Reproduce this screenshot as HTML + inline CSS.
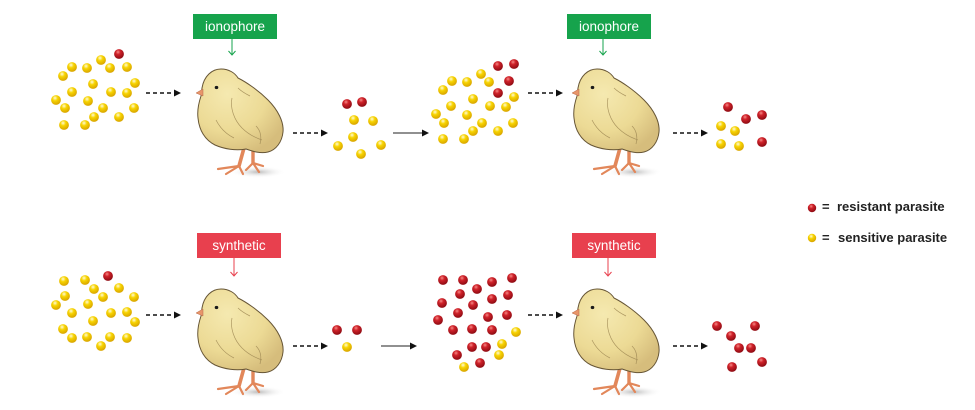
<!DOCTYPE html>
<html>
<head>
<meta charset="utf-8">
<style>
  html,body{margin:0;padding:0;background:#fff;}
  body{width:975px;height:410px;overflow:hidden;}
  svg{display:block;}
</style>
</head>
<body>
<svg width="975" height="410" viewBox="0 0 975 410" xmlns="http://www.w3.org/2000/svg">
  <defs>
    <radialGradient id="gr" cx="40%" cy="30%" r="70%">
      <stop offset="0%" stop-color="#f58a86"/>
      <stop offset="35%" stop-color="#d0222a"/>
      <stop offset="100%" stop-color="#8c0a12"/>
    </radialGradient>
    <radialGradient id="gy" cx="40%" cy="30%" r="70%">
      <stop offset="0%" stop-color="#fffbd8"/>
      <stop offset="40%" stop-color="#f7d400"/>
      <stop offset="100%" stop-color="#d8a400"/>
    </radialGradient>
    <radialGradient id="gbody" cx="35%" cy="30%" r="75%">
      <stop offset="0%" stop-color="#f5e9b0"/>
      <stop offset="60%" stop-color="#ecda95"/>
      <stop offset="100%" stop-color="#d6bd7c"/>
    </radialGradient>
    <radialGradient id="gshadow" cx="50%" cy="50%" r="50%">
      <stop offset="0%" stop-color="#b0b0b0" stop-opacity="0.85"/>
      <stop offset="100%" stop-color="#ffffff" stop-opacity="0"/>
    </radialGradient>
    <g id="chick">
      <ellipse cx="62" cy="104" rx="28" ry="6" fill="url(#gshadow)"/>
      <!-- legs -->
      <g stroke="#e2875a" stroke-linecap="round" fill="none">
        <path d="M48,80 L43,98" stroke-width="3.6"/>
        <path d="M57,80 L57,95" stroke-width="3.4"/>
        <path d="M43,98 L22,101 M43,98 L30,106 M43,98 L47,106" stroke-width="2.2"/>
        <path d="M57,95 L50,102 M57,95 L63,104 M57,95 L67,98" stroke-width="2.2"/>
      </g>
      <!-- body silhouette -->
      <path d="M6,20 C8,8 16,1 25,1 C33,1 39,5 42,10 C50,14 62,22 72,32 C82,42 88,54 87,64 C86,74 80,82 72,84 C64,86 56,83 50,81 C40,83 28,81 19,77 C9,72 3,62 2,50 C1,42 3,34 5,28 Z"
            fill="url(#gbody)" stroke="#665535" stroke-width="1"/>
      <!-- feather strokes -->
      <g stroke="#a08a55" stroke-width="0.7" fill="none" opacity="0.85">
        <path d="M36,30 C34,40 38,52 46,60 C52,66 60,70 66,72"/>
        <path d="M20,52 C24,60 30,66 38,70"/>
        <path d="M60,58 C64,62 66,68 64,76"/>
        <path d="M42,20 C46,24 50,26 54,28"/>
      </g>
      <!-- beak -->
      <path d="M7,21 L0,25 L7,28 Z" fill="#e8956a" stroke="#b86a48" stroke-width="0.5"/>
      <!-- eye -->
      <ellipse cx="20.5" cy="19.5" rx="1.8" ry="1.6" fill="#1a1a1a"/>
    </g>
  </defs>

  <!-- ===== Boxes ===== -->
  <rect x="193" y="14" width="84" height="25" fill="#16a34c"/>
  <text x="235" y="31" fill="#fff" font-family="Liberation Sans, sans-serif" font-size="13.5" text-anchor="middle">ionophore</text>
  <path d="M232,39 L232,55 M228.5,51 L232,55 L235.5,51" stroke="#16a34c" stroke-width="1" fill="none"/>

  <rect x="567" y="14" width="84" height="25" fill="#16a34c"/>
  <text x="609" y="31" fill="#fff" font-family="Liberation Sans, sans-serif" font-size="13.5" text-anchor="middle">ionophore</text>
  <path d="M603,39 L603,55 M599.5,51 L603,55 L606.5,51" stroke="#16a34c" stroke-width="1" fill="none"/>

  <rect x="197" y="233" width="84" height="25" fill="#e8404e"/>
  <text x="239" y="250" fill="#fff" font-family="Liberation Sans, sans-serif" font-size="13.5" text-anchor="middle">synthetic</text>
  <path d="M234,258 L234,276 M230.5,272 L234,276 L237.5,272" stroke="#e8404e" stroke-width="1" fill="none"/>

  <rect x="572" y="233" width="84" height="25" fill="#e8404e"/>
  <text x="614" y="250" fill="#fff" font-family="Liberation Sans, sans-serif" font-size="13.5" text-anchor="middle">synthetic</text>
  <path d="M608,258 L608,276 M604.5,272 L608,276 L611.5,272" stroke="#e8404e" stroke-width="1" fill="none"/>

  <!-- ===== Chicks ===== -->
  <use href="#chick" x="196" y="68"/>
  <use href="#chick" x="572" y="68"/>
  <use href="#chick" x="196" y="288"/>
  <use href="#chick" x="572" y="288"/>

  <!-- ===== Arrows ===== -->
  <g stroke="#111" stroke-width="1.4" stroke-dasharray="4 3" fill="none">
    <path d="M146,93 H175"/>
    <path d="M293,133 H322"/>
    <path d="M528,93 H557"/>
    <path d="M673,133 H702"/>
    <path d="M146,315 H175"/>
    <path d="M293,346 H322"/>
    <path d="M528,315 H557"/>
    <path d="M673,346 H702"/>
  </g>
  <g stroke="#222" stroke-width="1" fill="none">
    <path d="M393,133 H423"/>
    <path d="M381,346 H411"/>
  </g>
  <g fill="#111">
    <path d="M181,93 L174,89.5 L174,96.5 Z"/>
    <path d="M328,133 L321,129.5 L321,136.5 Z"/>
    <path d="M563,93 L556,89.5 L556,96.5 Z"/>
    <path d="M708,133 L701,129.5 L701,136.5 Z"/>
    <path d="M181,315 L174,311.5 L174,318.5 Z"/>
    <path d="M328,346 L321,342.5 L321,349.5 Z"/>
    <path d="M563,315 L556,311.5 L556,318.5 Z"/>
    <path d="M708,346 L701,342.5 L701,349.5 Z"/>
    <path d="M429,133 L422,129.5 L422,136.5 Z"/>
    <path d="M417,346 L410,342.5 L410,349.5 Z"/>
  </g>

  <!-- ===== Dots: red ===== -->
  <g fill="url(#gr)">
    <circle cx="119" cy="54" r="4.9"/>
    <circle cx="347" cy="104" r="4.9"/><circle cx="362" cy="102" r="4.9"/>
    <circle cx="498" cy="66" r="4.9"/><circle cx="514" cy="64" r="4.9"/><circle cx="509" cy="81" r="4.9"/><circle cx="498" cy="93" r="4.9"/>
    <circle cx="728" cy="107" r="4.9"/><circle cx="746" cy="119" r="4.9"/><circle cx="762" cy="115" r="4.9"/><circle cx="762" cy="142" r="4.9"/>
    <circle cx="108" cy="276" r="4.9"/>
    <circle cx="337" cy="330" r="4.9"/><circle cx="357" cy="330" r="4.9"/>
    <circle cx="443" cy="280" r="4.9"/><circle cx="463" cy="280" r="4.9"/><circle cx="492" cy="282" r="4.9"/><circle cx="512" cy="278" r="4.9"/>
    <circle cx="477" cy="289" r="4.9"/><circle cx="460" cy="294" r="4.9"/><circle cx="508" cy="295" r="4.9"/><circle cx="492" cy="299" r="4.9"/>
    <circle cx="442" cy="303" r="4.9"/><circle cx="473" cy="305" r="4.9"/><circle cx="438" cy="320" r="4.9"/><circle cx="458" cy="313" r="4.9"/>
    <circle cx="488" cy="317" r="4.9"/><circle cx="507" cy="315" r="4.9"/><circle cx="453" cy="330" r="4.9"/><circle cx="472" cy="329" r="4.9"/>
    <circle cx="492" cy="330" r="4.9"/><circle cx="472" cy="347" r="4.9"/><circle cx="486" cy="347" r="4.9"/><circle cx="457" cy="355" r="4.9"/>
    <circle cx="480" cy="363" r="4.9"/>
    <circle cx="717" cy="326" r="4.9"/><circle cx="755" cy="326" r="4.9"/><circle cx="731" cy="336" r="4.9"/><circle cx="739" cy="348" r="4.9"/>
    <circle cx="751" cy="348" r="4.9"/><circle cx="732" cy="367" r="4.9"/><circle cx="762" cy="362" r="4.9"/>
    <circle cx="812" cy="208" r="4.2"/>
  </g>

  <!-- ===== Dots: yellow ===== -->
  <g fill="url(#gy)">
    <circle cx="72" cy="67" r="4.9"/><circle cx="87" cy="68" r="4.9"/><circle cx="101" cy="60" r="4.9"/><circle cx="110" cy="68" r="4.9"/>
    <circle cx="127" cy="67" r="4.9"/><circle cx="63" cy="76" r="4.9"/><circle cx="135" cy="83" r="4.9"/><circle cx="93" cy="84" r="4.9"/>
    <circle cx="72" cy="92" r="4.9"/><circle cx="111" cy="92" r="4.9"/><circle cx="127" cy="93" r="4.9"/><circle cx="56" cy="100" r="4.9"/>
    <circle cx="88" cy="101" r="4.9"/><circle cx="65" cy="108" r="4.9"/><circle cx="103" cy="108" r="4.9"/><circle cx="134" cy="108" r="4.9"/>
    <circle cx="94" cy="117" r="4.9"/><circle cx="119" cy="117" r="4.9"/><circle cx="64" cy="125" r="4.9"/><circle cx="85" cy="125" r="4.9"/>

    <circle cx="354" cy="120" r="4.9"/><circle cx="373" cy="121" r="4.9"/><circle cx="353" cy="137" r="4.9"/><circle cx="338" cy="146" r="4.9"/>
    <circle cx="381" cy="145" r="4.9"/><circle cx="361" cy="154" r="4.9"/>

    <circle cx="481" cy="74" r="4.9"/><circle cx="452" cy="81" r="4.9"/><circle cx="467" cy="82" r="4.9"/><circle cx="489" cy="82" r="4.9"/>
    <circle cx="443" cy="90" r="4.9"/><circle cx="473" cy="99" r="4.9"/><circle cx="514" cy="97" r="4.9"/><circle cx="451" cy="106" r="4.9"/>
    <circle cx="490" cy="106" r="4.9"/><circle cx="506" cy="107" r="4.9"/><circle cx="436" cy="114" r="4.9"/><circle cx="467" cy="115" r="4.9"/>
    <circle cx="444" cy="123" r="4.9"/><circle cx="482" cy="123" r="4.9"/><circle cx="513" cy="123" r="4.9"/><circle cx="473" cy="131" r="4.9"/>
    <circle cx="498" cy="131" r="4.9"/><circle cx="443" cy="139" r="4.9"/><circle cx="464" cy="139" r="4.9"/>

    <circle cx="721" cy="126" r="4.9"/><circle cx="735" cy="131" r="4.9"/><circle cx="721" cy="144" r="4.9"/><circle cx="739" cy="146" r="4.9"/>

    <circle cx="64" cy="281" r="4.9"/><circle cx="85" cy="280" r="4.9"/><circle cx="94" cy="289" r="4.9"/><circle cx="119" cy="288" r="4.9"/>
    <circle cx="65" cy="296" r="4.9"/><circle cx="103" cy="297" r="4.9"/><circle cx="134" cy="297" r="4.9"/><circle cx="56" cy="305" r="4.9"/>
    <circle cx="88" cy="304" r="4.9"/><circle cx="72" cy="313" r="4.9"/><circle cx="111" cy="313" r="4.9"/><circle cx="127" cy="312" r="4.9"/>
    <circle cx="135" cy="322" r="4.9"/><circle cx="93" cy="321" r="4.9"/><circle cx="63" cy="329" r="4.9"/><circle cx="72" cy="338" r="4.9"/>
    <circle cx="87" cy="337" r="4.9"/><circle cx="110" cy="337" r="4.9"/><circle cx="127" cy="338" r="4.9"/><circle cx="101" cy="346" r="4.9"/>

    <circle cx="347" cy="347" r="4.9"/>

    <circle cx="516" cy="332" r="4.9"/><circle cx="502" cy="344" r="4.9"/><circle cx="499" cy="355" r="4.9"/><circle cx="464" cy="367" r="4.9"/>

    <circle cx="812" cy="238" r="4.2"/>
  </g>

  <!-- ===== Legend ===== -->
  <g font-family="Liberation Sans, sans-serif" font-size="13" font-weight="bold" fill="#222">
    <text x="822" y="211">=</text>
    <text x="837" y="211">resistant parasite</text>
    <text x="822" y="242">=</text>
    <text x="838" y="242">sensitive parasite</text>
  </g>
</svg>
</body>
</html>
